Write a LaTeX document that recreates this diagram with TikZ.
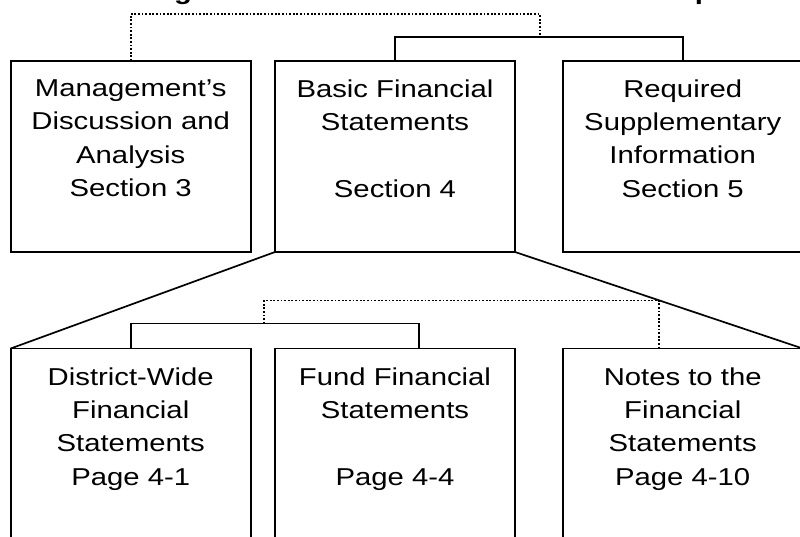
\documentclass[tikz,border=0pt]{standalone}
\usepackage{fontspec}
\setmainfont{Liberation Sans}[FakeStretch=1.2]
\usetikzlibrary{calc}
\tikzset{
  box/.style={draw=black, line width=1.7pt, rectangle, inner sep=0pt, outer sep=0pt, minimum width=240pt, anchor=north west},
  topbox/.style={box, minimum height=191.3pt},
  lowbox/.style={box, minimum height=200pt},
  lbl/.style={inner sep=0pt, outer sep=0pt, align=center, anchor=north, font=\fontsize{24.4}{33.3}\selectfont},
  titletext/.style={inner sep=0pt, outer sep=0pt, anchor=base west, font=\bfseries\fontsize{24.4}{33.3}\selectfont},
  link/.style={line width=1.7pt, line join=miter},
  dotlink/.style={line width=1.9pt, dash pattern=on 1.8pt off 1.8pt},
}
\begin{document}
\begin{tikzpicture}[x=1pt,y=-1pt]
\useasboundingbox (0,0) rectangle (800,536);
\node[titletext] (title) at (140,-1) {Organization of the Annual Financial Report};

\node[topbox] (b1) at (10.7,60.7) {};
\node[topbox] (b2) at (275,60.7) {};
\node[topbox] (b3) at (562.7,60.7) {};
\node[lowbox] (b4) at (10.7,348.5) {};
\node[lowbox] (b5) at (275,348.5) {};
\node[lowbox] (b6) at (562.7,348.5) {};

\node[lbl] (t1) at ($(b1.north)+(0,19)$) {Management’s\\Discussion and\\Analysis\\Section 3};
\node[lbl] (t2) at ($(b2.north)+(0,19)$) {Basic Financial\\Statements\\~\\Section 4};
\node[lbl] (t3) at ($(b3.north)+(0,19)$) {Required\\Supplementary\\Information\\Section 5};
\node[lbl] (t4) at ($(b4.north)+(0,19)$) {District-Wide\\Financial\\Statements\\Page 4-1};
\node[lbl] (t5) at ($(b5.north)+(0,19)$) {Fund Financial\\Statements\\~\\Page 4-4};
\node[lbl] (t6) at ($(b6.north)+(0,19)$) {Notes to the\\Financial\\Statements\\Page 4-10};

% top brackets
\coordinate (topbar) at (0,37);
\coordinate (topdot) at (540,14);
\draw[link] (b2.north) -- (b2.north |- topbar) -| (b3.north);
\draw[dotlink] (b1.north) |- (topdot) -- (topdot |- topbar);

% expansion lines
\draw[link] (b2.south west) -- (b4.north west);
\draw[link] (b2.south east) -- (b6.north east);

% lower brackets
\coordinate (lowbar) at (419,323.5);
\coordinate (dl) at (264,300.5);
\coordinate (dr) at (659.3,300.5);
\draw[link] (b4.north) |- (lowbar) -- (lowbar |- b5.north);
\draw[dotlink] (dl |- lowbar) -- (dl) -- (dr) -- (dr |- b6.north);
\end{tikzpicture}
\end{document}
